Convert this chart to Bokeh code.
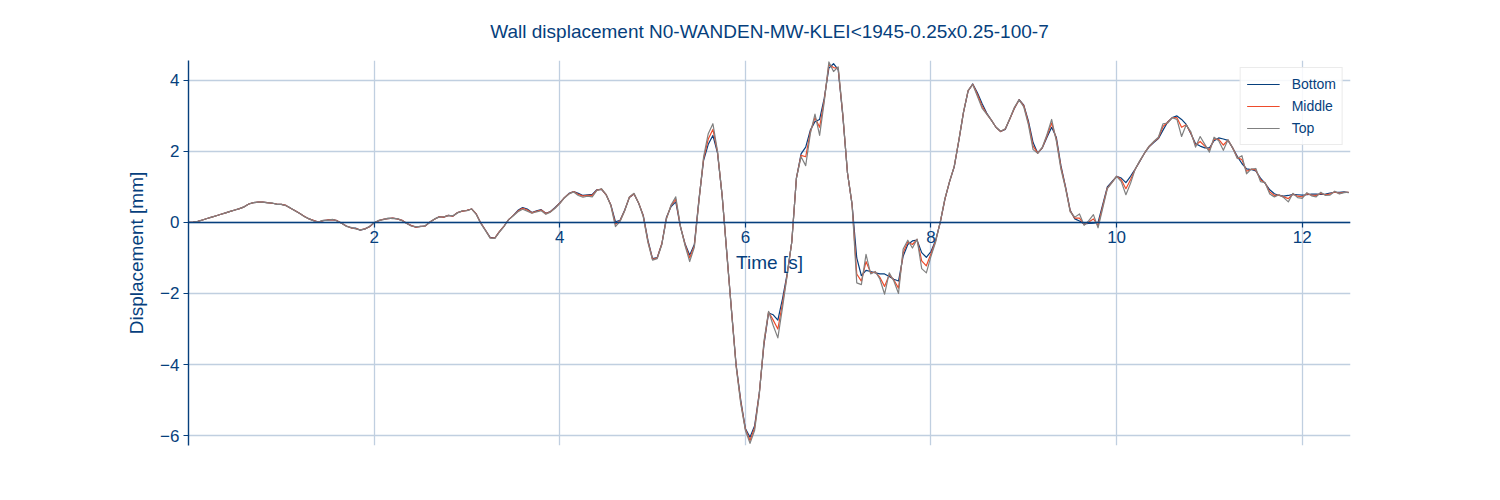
import numpy as np
from bokeh.plotting import figure
from bokeh.models import Range1d, FixedTicker, Legend, LegendItem
from bokeh.embed import file_html
from bokeh.resources import INLINE

TITLE = "Wall displacement N0-WANDEN-MW-KLEI<1945-0.25x0.25-100-7"
X_LABEL = "Time [s]"
Y_LABEL = "Displacement [mm]"
SERIES = ["Bottom", "Middle", "Top"]
X_TICKS = [2, 4, 6, 8, 10, 12]
Y_TICKS = [-6, -4, -2, 0, 2, 4]

# sampled every 0.05 s, one row per second
bottom = [
    0.00, 0.01, 0.03, 0.07, 0.11, 0.15, 0.19, 0.23, 0.27, 0.31, 0.35, 0.39, 0.44, 0.52, 0.56, 0.57, 0.57, 0.56, 0.54, 0.52,
    0.51, 0.48, 0.40, 0.33, 0.25, 0.17, 0.10, 0.05, 0.01, 0.05, 0.07, 0.08, 0.05, -0.02, -0.10, -0.15, -0.16, -0.22, -0.18, -0.12,
    -0.01, 0.05, 0.09, 0.11, 0.12, 0.10, 0.06, -0.02, -0.09, -0.13, -0.11, -0.10, 0.01, 0.09, 0.16, 0.15, 0.20, 0.18, 0.28, 0.32,
    0.34, 0.38, 0.24, -0.02, -0.22, -0.42, -0.44, -0.26, -0.10, 0.08, 0.20, 0.34, 0.42, 0.38, 0.28, 0.33, 0.36, 0.26, 0.31, 0.42,
    0.55, 0.70, 0.82, 0.87, 0.82, 0.76, 0.78, 0.79, 0.92, 0.93, 0.78, 0.50, 0.02, 0.06, 0.35, 0.70, 0.80, 0.54, 0.20, -0.50,
    -1.02, -0.99, -0.60, 0.15, 0.45, 0.58, -0.12, -0.60, -0.92, -0.62, 0.65, 1.75, 2.20, 2.45, 1.95, 0.75, -0.85, -2.45, -4.00, -5.00,
    -5.80, -6.05, -5.72, -4.80, -3.45, -2.55, -2.60, -2.75, -2.15, -1.45, -0.55, 1.25, 1.93, 2.12, 2.60, 2.84, 2.90, 3.50, 4.35, 4.47,
    4.30, 3.00, 1.40, 0.50, -1.00, -1.50, -1.35, -1.38, -1.42, -1.45, -1.45, -1.52, -1.60, -1.65, -0.95, -0.62, -0.52, -0.50, -0.85, -0.98,
    -0.82, -0.50, 0.00, 0.65, 1.15, 1.56, 2.30, 3.10, 3.70, 3.90, 3.65, 3.35, 3.08, 2.88, 2.68, 2.56, 2.62, 2.92, 3.22, 3.46,
    3.30, 2.85, 2.25, 1.95, 2.10, 2.40, 2.68, 2.40, 1.60, 1.00, 0.34, 0.10, 0.04, -0.04, -0.03, -0.02, 0.00, 0.50, 1.00, 1.15,
    1.30, 1.25, 1.12, 1.30, 1.50, 1.72, 1.95, 2.13, 2.25, 2.36, 2.60, 2.83, 2.95, 3.00, 2.90, 2.76, 2.50, 2.22, 2.15, 2.10,
    2.10, 2.30, 2.38, 2.35, 2.31, 2.10, 1.86, 1.66, 1.51, 1.49, 1.45, 1.25, 1.10, 0.92, 0.81, 0.76, 0.74, 0.76, 0.79, 0.78,
    0.77, 0.78, 0.80, 0.80, 0.79, 0.80, 0.83, 0.85, 0.85, 0.86, 0.84,
]

middle = [
    0.00, 0.01, 0.03, 0.07, 0.11, 0.15, 0.19, 0.23, 0.27, 0.31, 0.35, 0.39, 0.44, 0.52, 0.56, 0.57, 0.57, 0.56, 0.54, 0.52,
    0.51, 0.48, 0.40, 0.33, 0.25, 0.17, 0.10, 0.05, 0.01, 0.05, 0.07, 0.08, 0.05, -0.02, -0.10, -0.15, -0.17, -0.21, -0.18, -0.12,
    -0.01, 0.05, 0.09, 0.11, 0.12, 0.10, 0.06, -0.02, -0.09, -0.13, -0.11, -0.10, 0.01, 0.09, 0.16, 0.15, 0.20, 0.18, 0.28, 0.32,
    0.34, 0.38, 0.24, -0.02, -0.22, -0.43, -0.44, -0.26, -0.10, 0.08, 0.20, 0.32, 0.40, 0.35, 0.27, 0.31, 0.35, 0.25, 0.30, 0.41,
    0.54, 0.70, 0.81, 0.87, 0.79, 0.74, 0.76, 0.76, 0.91, 0.94, 0.78, 0.49, -0.05, 0.05, 0.34, 0.71, 0.81, 0.55, 0.18, -0.53,
    -1.04, -1.00, -0.60, 0.12, 0.48, 0.65, -0.11, -0.62, -1.00, -0.66, 0.62, 1.80, 2.35, 2.62, 1.98, 0.75, -0.87, -2.46, -4.02, -5.05,
    -5.82, -6.14, -5.78, -4.82, -3.40, -2.52, -2.75, -3.00, -2.28, -1.48, -0.55, 1.25, 1.89, 1.85, 2.55, 2.95, 2.68, 3.45, 4.45, 4.36,
    4.34, 3.02, 1.40, 0.50, -1.45, -1.65, -1.10, -1.42, -1.40, -1.55, -1.80, -1.47, -1.62, -1.85, -0.85, -0.55, -0.62, -0.48, -1.08, -1.22,
    -0.88, -0.52, 0.01, 0.66, 1.15, 1.57, 2.31, 3.10, 3.71, 3.89, 3.60, 3.28, 3.06, 2.88, 2.68, 2.56, 2.63, 2.92, 3.23, 3.45,
    3.28, 2.80, 2.15, 1.95, 2.11, 2.44, 2.80, 2.35, 1.55, 0.98, 0.32, 0.12, 0.12, -0.06, 0.01, 0.10, -0.08, 0.45, 0.97, 1.13,
    1.30, 1.20, 0.95, 1.20, 1.50, 1.73, 1.95, 2.14, 2.27, 2.38, 2.70, 2.82, 2.95, 2.95, 2.68, 2.75, 2.52, 2.17, 2.28, 2.15,
    2.04, 2.35, 2.34, 2.18, 2.32, 2.10, 1.83, 1.77, 1.44, 1.50, 1.48, 1.20, 1.11, 0.86, 0.76, 0.77, 0.72, 0.67, 0.80, 0.74,
    0.72, 0.81, 0.77, 0.76, 0.82, 0.78, 0.80, 0.86, 0.82, 0.85, 0.85,
]

top = [
    0.00, 0.01, 0.03, 0.07, 0.11, 0.15, 0.19, 0.23, 0.27, 0.31, 0.35, 0.39, 0.44, 0.52, 0.56, 0.57, 0.57, 0.55, 0.55, 0.51,
    0.51, 0.47, 0.41, 0.32, 0.25, 0.16, 0.10, 0.04, 0.01, 0.06, 0.06, 0.09, 0.04, -0.02, -0.11, -0.14, -0.18, -0.21, -0.19, -0.11,
    -0.01, 0.06, 0.08, 0.12, 0.11, 0.11, 0.05, -0.03, -0.10, -0.12, -0.12, -0.09, 0.00, 0.10, 0.15, 0.16, 0.19, 0.19, 0.27, 0.33,
    0.33, 0.38, 0.23, -0.03, -0.23, -0.44, -0.45, -0.27, -0.11, 0.08, 0.19, 0.30, 0.37, 0.32, 0.26, 0.30, 0.33, 0.23, 0.29, 0.40,
    0.53, 0.69, 0.80, 0.86, 0.76, 0.71, 0.74, 0.72, 0.90, 0.95, 0.78, 0.48, -0.12, 0.03, 0.33, 0.72, 0.82, 0.55, 0.16, -0.56,
    -1.06, -1.02, -0.62, 0.10, 0.50, 0.72, -0.10, -0.65, -1.10, -0.70, 0.60, 1.85, 2.50, 2.78, 2.00, 0.75, -0.88, -2.48, -4.05, -5.10,
    -5.85, -6.22, -5.85, -4.85, -3.35, -2.50, -2.90, -3.25, -2.40, -1.50, -0.55, 1.25, 1.85, 1.60, 2.50, 3.05, 2.45, 3.40, 4.52, 4.25,
    4.38, 3.05, 1.40, 0.50, -1.70, -1.75, -0.90, -1.45, -1.38, -1.60, -2.02, -1.42, -1.65, -2.00, -0.75, -0.50, -0.72, -0.47, -1.30, -1.42,
    -0.95, -0.55, 0.02, 0.68, 1.15, 1.58, 2.32, 3.10, 3.72, 3.88, 3.55, 3.22, 3.05, 2.88, 2.68, 2.57, 2.64, 2.93, 3.25, 3.45,
    3.25, 2.75, 2.05, 1.95, 2.12, 2.48, 2.90, 2.30, 1.50, 0.95, 0.30, 0.15, 0.24, -0.08, 0.05, 0.22, -0.15, 0.40, 0.95, 1.12,
    1.30, 1.15, 0.78, 1.10, 1.50, 1.74, 1.95, 2.15, 2.28, 2.40, 2.78, 2.80, 2.95, 2.90, 2.42, 2.75, 2.55, 2.12, 2.42, 2.20,
    1.98, 2.40, 2.30, 2.03, 2.33, 2.10, 1.80, 1.88, 1.37, 1.50, 1.52, 1.15, 1.12, 0.80, 0.72, 0.78, 0.70, 0.58, 0.82, 0.70,
    0.68, 0.84, 0.75, 0.72, 0.85, 0.76, 0.77, 0.88, 0.80, 0.84, 0.85,
]

time = [round(i * 0.05, 2) for i in range(len(bottom))]
assert len(bottom) == len(middle) == len(top)

TEXT = "#063f7d"
COLORS = ["#063f7d", "#ee4b2b", "#808080"]
FONT = "Liberation Sans"

p = figure(width=1500, height=500, output_backend="svg", toolbar_location=None,
           x_range=Range1d(0, 12.52), y_range=Range1d(-6.28, 4.56),
           min_border_left=188, min_border_right=150, min_border_top=60, min_border_bottom=55)
p.outline_line_color = None
p.background_fill_color = "white"

p.title.text = TITLE
p.title.align = "center"
p.title.text_font = FONT
p.title.text_font_size = "19px"
p.title.text_font_style = "normal"
p.title.text_color = TEXT
p.title.standoff = 37

renderers = []
for name, ys, col in zip(SERIES, [bottom, middle, top], COLORS):
    r = p.line(time, ys, line_color=col, line_width=1.2, line_join="round")
    renderers.append((name, r))

# axes
xa = p.xaxis[0]
xa.fixed_location = 0
xa.ticker = FixedTicker(ticks=X_TICKS)
xa.axis_label = X_LABEL
ya = p.yaxis[0]
ya.ticker = FixedTicker(ticks=Y_TICKS)
ya.axis_label = Y_LABEL
ya.major_label_overrides = {t: (("\u2212" + str(abs(t))) if t < 0 else str(t)) for t in Y_TICKS}
for ax in (xa, ya):
    ax.axis_line_color = TEXT
    ax.axis_line_width = 1.4
    ax.major_tick_line_color = TEXT
    ax.major_tick_line_width = 1.2
    ax.major_tick_out = 5
    ax.major_tick_in = 0
    ax.minor_tick_line_color = None
    ax.major_label_text_color = TEXT
    ax.major_label_text_font = FONT
    ax.major_label_text_font_size = "17px"
    ax.axis_label_text_color = TEXT
    ax.axis_label_text_font = FONT
    ax.axis_label_text_font_size = "19px"
    ax.axis_label_text_font_style = "normal"
xa.major_label_standoff = 4
xa.axis_label_standoff = 5
ya.major_label_standoff = 4
ya.axis_label_standoff = 10

p.xgrid.ticker = FixedTicker(ticks=X_TICKS)
p.ygrid.ticker = FixedTicker(ticks=Y_TICKS)
for g in (p.xgrid[0], p.ygrid[0]):
    g.grid_line_color = "#c0cfe0"
    g.grid_line_width = 1.3

legend = Legend(items=[LegendItem(label=n, renderers=[r]) for n, r in renderers],
                location="top_right")
legend.margin = 7
legend.padding = 6
legend.spacing = 2
legend.glyph_width = 33
legend.label_standoff = 12
legend.label_text_font = FONT
legend.label_text_font_size = "14px"
legend.label_text_color = TEXT
legend.border_line_color = "#d8d8d8"
legend.background_fill_alpha = 0.85
p.add_layout(legend, "center")

open("out.html", "w").write(file_html(p, INLINE))
